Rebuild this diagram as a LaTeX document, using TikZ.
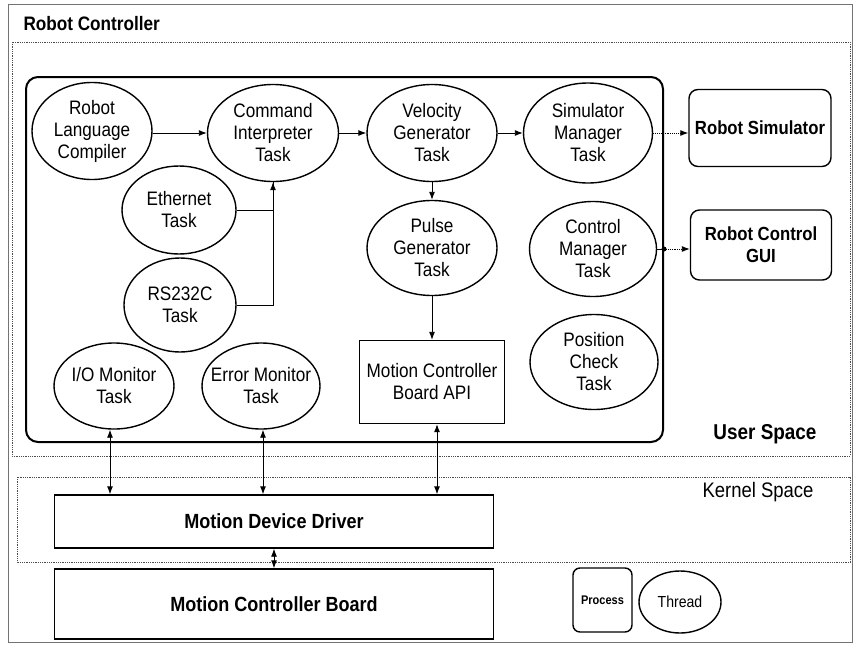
\documentclass[tikz,border=0pt]{standalone}
\usepackage{fontspec}
\setmainfont[FakeStretch=0.88]{Liberation Sans}
\usetikzlibrary{shapes.geometric,arrows.meta}
\begin{document}
\begin{tikzpicture}[x=1pt,y=-1pt,
  task/.style={ellipse,draw,line width=1.4pt,inner xsep=-15pt,inner ysep=-5pt,align=center,
    font=\fontsize{19.5}{22}\selectfont},
  procbox/.style={draw,line width=1.4pt,rounded corners=9pt,align=center,
    font=\bfseries\fontsize{19}{22}\selectfont},
  plainbox/.style={draw,line width=1.4pt,align=center,inner sep=0pt},
  arr/.style={line width=0.9pt,-{Latex[length=8pt,width=6pt]}},
  biarr/.style={line width=0.9pt,{Latex[length=8pt,width=6pt]}-{Latex[length=8pt,width=6pt]}},
  dotarr/.style={line width=0.9pt,densely dotted,-{Latex[length=8pt,width=6pt]}},
  spacebox/.style={draw=black!70,line width=0.6pt,dash pattern=on 1pt off 0.8pt},
  lbl/.style={font=\bfseries\fontsize{20}{22}\selectfont}]
\useasboundingbox (0,0) rectangle (854,645);
\fill[white] (0,0) rectangle (854,645);
% outer frame
\draw[black!55,line width=0.8pt] (8,4) rectangle (852,642);
\node[lbl,anchor=west,font=\bfseries\fontsize{19.5}{22}\selectfont] (title) at (20,24) {Robot Controller};
% user space
\draw[spacebox] (12,42) rectangle (850,456);
\node[lbl,font=\bfseries\fontsize{21.5}{22}\selectfont] (user) at (765,434) {User Space};
% inner process container
\node[draw,line width=2pt,rounded corners=12pt,minimum width=637pt,minimum height=365pt,inner sep=0pt] (inner) at (344.5,259.5) {};
% tasks
\node[task,minimum width=120pt,minimum height=97pt] (comp) at (92,131) {Robot\\Language\\Compiler};
\node[task,minimum width=131pt,minimum height=97pt] (cmd) at (273,133) {Command\\Interpreter\\Task};
\node[task,minimum width=130pt,minimum height=97pt] (vel) at (432,133) {Velocity\\Generator\\Task};
\node[task,minimum width=129pt,minimum height=100pt] (sim) at (588,133) {Simulator\\Manager\\Task};
\node[task,minimum width=114pt,minimum height=88pt] (eth) at (179,210) {Ethernet\\Task};
\node[task,minimum width=112pt,minimum height=94pt] (rs) at (180,305) {RS232C\\Task};
\node[task,minimum width=130pt,minimum height=95pt] (pulse) at (432,248) {Pulse\\Generator\\Task};
\node[task,minimum width=127pt,minimum height=95pt] (ctrl) at (593,249) {Control\\Manager\\Task};
\node[task,minimum width=128pt,minimum height=95pt] (pos) at (594,362) {Position\\Check\\Task};
\node[task,minimum width=120pt,minimum height=86pt] (io) at (114,386) {I/O Monitor\\Task};
\node[task,minimum width=118pt,minimum height=86pt] (err) at (261,386) {Error Monitor\\Task};
\node[plainbox,minimum width=145pt,minimum height=83pt,font=\fontsize{19.5}{22}\selectfont] (api) at (432,382) {Motion Controller\\Board API};
% external processes
\node[procbox,minimum width=142pt,minimum height=77pt] (robsim) at (760,128) {Robot Simulator};
\node[procbox,minimum width=141pt,minimum height=70pt] (gui) at (761,245) {Robot Control\\GUI};
% kernel space
\draw[spacebox] (17,477) rectangle (850,562);
\node[font=\fontsize{21}{22}\selectfont] (kernel) at (758,492) {Kernel Space};
\node[plainbox,minimum width=439pt,minimum height=53pt,font=\bfseries\fontsize{20.5}{22}\selectfont] (driver) at (274,521.5) {Motion Device Driver};
\node[plainbox,minimum width=439pt,minimum height=70pt,font=\bfseries\fontsize{20.5}{22}\selectfont] (board) at (274,604) {Motion Controller Board};
% legend
\node[draw,line width=1.4pt,rounded corners=7pt,minimum width=59pt,minimum height=64pt,inner sep=0pt,
  font=\bfseries\fontsize{12.5}{14}\selectfont] (proc) at (602.5,600) {Process};
\node[ellipse,draw,line width=1.4pt,minimum width=82pt,minimum height=62pt,inner sep=0pt,
  font=\fontsize{16}{18}\selectfont] (thread) at (680,602) {Thread};
% connectors
\draw[arr] (comp.east |- 0,133) -- (cmd.west);
\draw[arr] (cmd.east) -- (vel.west);
\draw[arr] (vel.east) -- (sim.west);
\draw[arr] (vel.south) -- (pulse.north);
\draw[arr] (pulse.south) -- (api.north);
\draw[line width=0.9pt] (rs.east) -| (cmd.south);
\draw[arr] (eth.east) -| (cmd.south);
\draw[dotarr] (sim.east) -- (sim.east -| robsim.west);
\coordinate (cj) at (ctrl.east -| inner.east);
\draw[line width=0.9pt] (ctrl.east) -- (cj);
\draw[dotarr] (cj) -- (cj -| gui.west);
\fill (cj) circle (2.5pt);
\draw[biarr] ([xshift=-4pt]io.south) -- ([xshift=-4pt]io.south |- driver.north);
\draw[biarr] ([xshift=2pt]err.south) -- ([xshift=2pt]err.south |- driver.north);
\draw[biarr] ([xshift=5pt]api.south) -- ([xshift=5pt]api.south |- driver.north);
\draw[biarr] (driver.south) -- (board.north);
\end{tikzpicture}
\end{document}
